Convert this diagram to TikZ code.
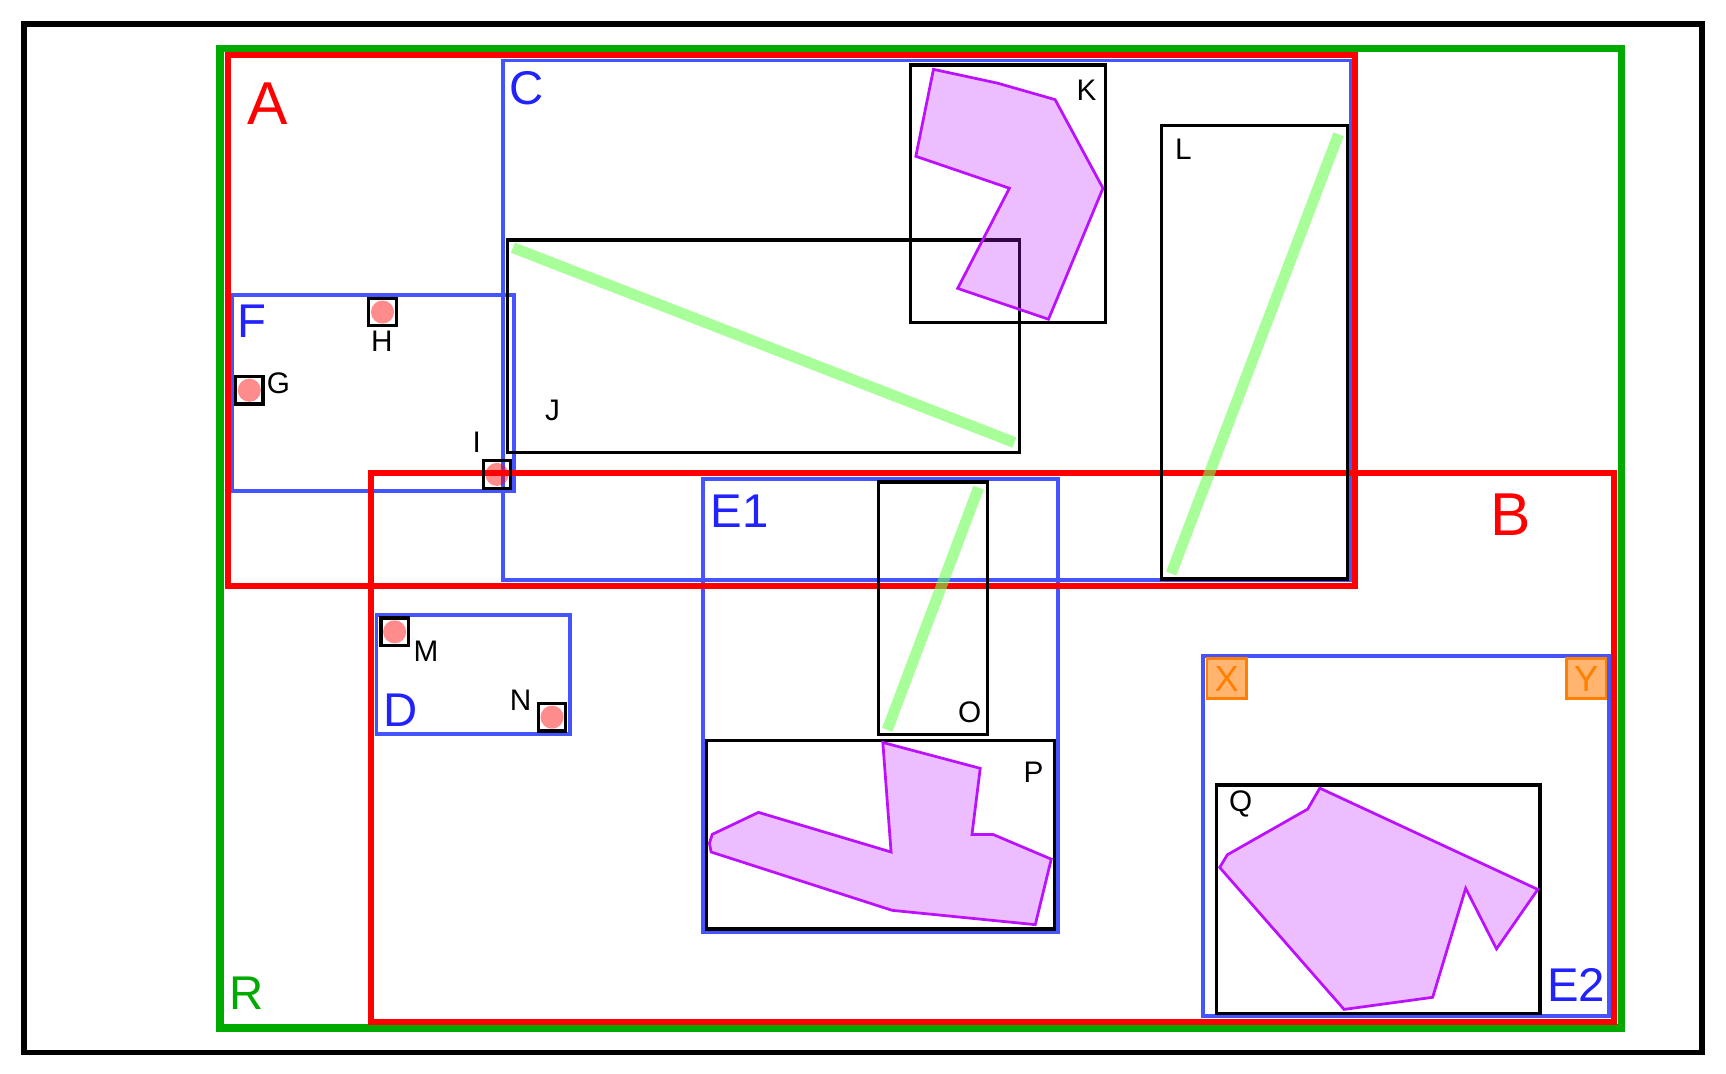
\documentclass[tikz,border=0pt]{standalone}
\usepackage{fontspec}
\setmainfont{Liberation Sans}
\definecolor{RGreen}{RGB}{0,170,0}
\definecolor{ZRed}{RGB}{255,0,0}
\definecolor{GBlue}{RGB}{68,85,255}
\definecolor{LBlue}{RGB}{34,34,255}
\definecolor{LGreen}{RGB}{110,255,85}
\definecolor{PLine}{RGB}{187,17,255}
\definecolor{TOrange}{RGB}{255,128,0}
\definecolor{TFill}{RGB}{255,181,112}

\begin{document}
\begin{tikzpicture}[x=1pt,y=-1pt,
    outer/.style={draw=black,line width=5pt},
    region/.style={draw=RGreen,line width=7pt},
    zone/.style={draw=ZRed,line width=5.5pt},
    group/.style={draw=GBlue,line width=3.5pt},
    item/.style={draw=black,line width=3pt},
    link/.style={draw=LGreen,draw opacity=0.6,line width=10pt},
    poly/.style={draw=PLine,line width=2.5pt,fill=PLine,fill opacity=0.28},
    pin/.style={draw=black,line width=3pt},
    dot/.style={fill=red,fill opacity=0.45},
    tag/.style={draw=TOrange,fill=TFill,line width=2.5pt,text=TOrange,minimum size=36pt,inner sep=0pt,font=\fontsize{33}{36}\selectfont},
    zonelbl/.style={inner sep=0pt,text=ZRed,font=\fontsize{55}{60}\selectfont},
    grplbl/.style={inner sep=0pt,text=LBlue,font=\fontsize{43}{48}\selectfont},
    itemlbl/.style={inner sep=0pt,font=\fontsize{27}{30}\selectfont}
]

\useasboundingbox (0,0) rectangle (1568,975);

% Outer frame
\draw[outer] (22,22) rectangle (1546,956);

% Region R
\draw[region] (200,44) rectangle (1473,934);

% Groups
\draw[group] (457,55) rectangle (1227,527);   % C
\draw[group] (211,268) rectangle (467,446);   % F
\draw[group] (342,559) rectangle (518,667);   % D
\draw[group] (639,435) rectangle (961,847);   % E1
\draw[group] (1093,596) rectangle (1462,923); % E2

% Zones
\draw[zone] (207,50) rectangle (1231,532);    % A
\draw[zone] (337,430) rectangle (1466,928);   % B

% Items
\draw[item] (461,218) rectangle (926,411);    % J
\draw[item] (827,59) rectangle (1004,293);    % K
\draw[item] (1055,114) rectangle (1224,526);  % L
\draw[item] (798,438) rectangle (897,667);    % O
\draw[item] (642,673) rectangle (958,844);    % P
\draw[item] (1105,713) rectangle (1399,921);  % Q

% Polygons
\draw[poly] (848,63) -- (906,75.5) -- (958.5,90.5) -- (1002,171) -- (952.5,290)
    -- (870,262) -- (917,171) -- (832,142) -- cycle;
\draw[poly] (802,674.5) -- (890.5,698) -- (883,758) -- (902,758) -- (955,780.5)
    -- (940.5,840) -- (810.5,827) -- (646,774) -- (644.5,766) -- (647,758)
    -- (689,738) -- (809.5,774) -- cycle;
\draw[poly] (1199,716) -- (1397,808) -- (1359.5,862) -- (1331.5,807) -- (1301.5,906)
    -- (1221,917) -- (1108,788) -- (1115,776.5) -- (1188,735) -- cycle;

% Links
\draw[link] (466,225) -- (921.5,402);
\draw[link] (1216,122) -- (1064,521);
\draw[link] (889,443) -- (806,663);

% Pins
\foreach \px/\py/\pname in {226.5/354.5/G,347.5/283.5/H,451.5/431/I,358.5/574/M,501.5/651.5/N}{
  \draw[pin] (\px-12.5,\py-12.5) rectangle (\px+12.5,\py+12.5);
  \fill[dot] (\px,\py) circle (10.5);
}

% Tags
\node[tag] (tx) at (1114.5,616.5) {X};
\node[tag] (ty) at (1441,616.5) {Y};

% Zone and group labels
\node[zonelbl] (la) at (243,94) {A};
\node[zonelbl] (lb) at (1372,467.5) {B};
\node[grplbl] (lc) at (478,80) {C};
\node[grplbl] (lf) at (229,292) {F};
\node[grplbl] (ld) at (364,645) {D};
\node[grplbl] (le1) at (672,464) {E1};
\node[grplbl] (le2) at (1432,895) {E2};
\node[grplbl,text=RGreen] (lr) at (224,902) {R};

% Item labels
\node[itemlbl] (lk) at (987,82) {K};
\node[itemlbl] (ll) at (1075,136) {L};
\node[itemlbl] (lj) at (502,373) {J};
\node[itemlbl] (lh) at (347,310) {H};
\node[itemlbl] (lg) at (253,348) {G};
\node[itemlbl] (li) at (433,402) {I};
\node[itemlbl] (lm) at (387,592) {M};
\node[itemlbl] (ln) at (473,636) {N};
\node[itemlbl] (lo) at (881,647) {O};
\node[itemlbl] (lp) at (939,702) {P};
\node[itemlbl] (lq) at (1127,730) {Q};

\end{tikzpicture}
\end{document}
